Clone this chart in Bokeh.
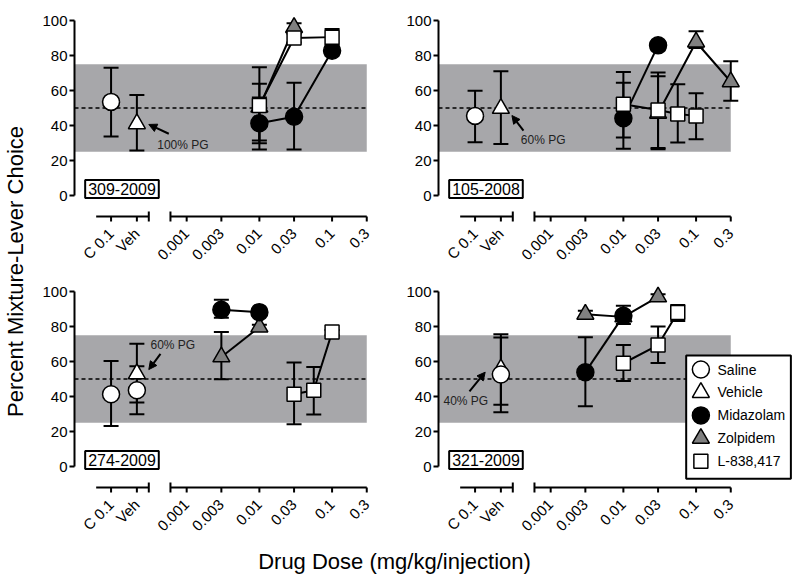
import math
import numpy as np
from bokeh.plotting import figure
from bokeh.layouts import column, row
from bokeh.models import (Range1d, LinearAxis, FixedTicker, Whisker, TeeHead, ColumnDataSource,
                          BoxAnnotation, Label, Arrow, NormalHead)
from bokeh.core.properties import value
from bokeh.embed import file_html
from bokeh.resources import INLINE

FONT = "Liberation Sans"

# ---------------- data ----------------
DOSE_TICKS = [0.001, 0.003, 0.01, 0.03, 0.1, 0.3]
DOSE_LABELS = ["0.001", "0.003", "0.01", "0.03", "0.1", "0.3"]
CTRL_LABELS = ["C 0.1", "Veh"]
SERIES = ["Saline", "Vehicle", "Midazolam", "Zolpidem", "L-838,417"]
SUBJECTS = ["309-2009", "105-2008", "274-2009", "321-2009"]
PG_NOTES = ["100% PG", "60% PG", "60% PG", "40% PG"]
CHANCE = 50
BAND_LO, BAND_HI = 25, 75
Y_TICKS = [0, 20, 40, 60, 80, 100]

# Panel A: 309-2009
A_SAL_AT = ["C 0.1"]; A_SAL = [53.5]; A_SAL_LO = [33.7]; A_SAL_HI = [73.0]
A_VEH_AT = ["Veh"]; A_VEH = [41.0]; A_VEH_LO = [25.7]; A_VEH_HI = [57.5]
A_MID_DOSE = [0.01, 0.03, 0.1]; A_MID = [41.3, 45.0, 82.7]; A_MID_LO = [26.3, 26.3, 80.0]; A_MID_HI = [56.0, 64.4, 85.0]
A_ZOL_DOSE = [0.01, 0.03]; A_ZOL = [50.5, 96.0]; A_ZOL_LO = [31.4, 93.0]; A_ZOL_HI = [63.8, 98.5]
A_L83_DOSE = [0.01, 0.03, 0.1]; A_L83 = [51.4, 90.0, 90.5]; A_L83_LO = [29.9, 87.5, 86.0]; A_L83_HI = [73.3, 92.5, 95.2]

# Panel B: 105-2008
B_SAL_AT = ["C 0.1"]; B_SAL = [45.5]; B_SAL_LO = [30.5]; B_SAL_HI = [59.8]
B_VEH_AT = ["Veh"]; B_VEH = [49.8]; B_VEH_LO = [29.4]; B_VEH_HI = [71.0]
B_MID_DOSE = [0.01, 0.03]; B_MID = [44.1, 85.8]; B_MID_LO = [26.7, 83.0]; B_MID_HI = [64.4, 88.0]
B_ZOL_DOSE = [0.03, 0.1, 0.3]; B_ZOL = [47.0, 87.7, 65.0]; B_ZOL_LO = [26.5, 84.3, 54.1]; B_ZOL_HI = [68.2, 93.8, 76.7]
B_L83_DOSE = [0.01, 0.03, 0.056, 0.1]; B_L83 = [52.1, 48.9, 46.6, 45.5]; B_L83_LO = [33.1, 27.1, 30.3, 32.2]; B_L83_HI = [70.6, 70.3, 63.6, 58.4]

# Panel C: 274-2009
C_SAL_AT = ["C 0.1", "Veh"]; C_SAL = [41.3, 43.6]; C_SAL_LO = [23.1, 29.8]; C_SAL_HI = [60.3, 57.3]
C_VEH_AT = ["Veh"]; C_VEH = [53.0]; C_VEH_LO = [36.6]; C_VEH_HI = [70.2]
C_MID_DOSE = [0.003, 0.01]; C_MID = [89.6, 88.2]; C_MID_LO = [85.0, 86.0]; C_MID_HI = [95.3, 90.0]
C_ZOL_DOSE = [0.003, 0.01]; C_ZOL = [62.6, 79.7]; C_ZOL_LO = [49.9, 78.0]; C_ZOL_HI = [76.8, 81.0]
C_L83_DOSE = [0.03, 0.056, 0.1]; C_L83 = [41.3, 43.6, 76.8]; C_L83_LO = [24.2, 29.7, 75.0]; C_L83_HI = [59.4, 56.9, 78.0]

# Panel D: 321-2009
D_SAL_AT = ["Veh"]; D_SAL = [52.6]; D_SAL_LO = [31.0]; D_SAL_HI = [73.7]
D_VEH_AT = ["Veh"]; D_VEH = [55.8]; D_VEH_LO = [35.3]; D_VEH_HI = [75.6]
D_MID_DOSE = [0.003, 0.01]; D_MID = [53.9, 86.1]; D_MID_LO = [34.4, 81.4]; D_MID_HI = [73.8, 91.8]
D_ZOL_DOSE = [0.003, 0.01, 0.03]; D_ZOL = [87.0, 85.5, 96.9]; D_ZOL_LO = [85.0, 84.0, 95.0]; D_ZOL_HI = [89.0, 87.0, 98.5]
D_L83_DOSE = [0.01, 0.03, 0.056]; D_L83 = [59.0, 69.4, 88.0]; D_L83_LO = [48.8, 59.2, 83.2]; D_L83_HI = [69.4, 80.0, 92.3]

# ---------------- geometry / style ----------------
X_PX = 72.7            # pixels per decade
X_START = -4.543       # x-range start (log10 units)
CTRL_POS = [-4.04, -3.685]        # positions of "C 0.1" and "Veh" on the broken axis
CTRL_SEG = (-4.245, -3.521)       # control part of the broken x axis
DOSE_SEG_START = -3.223           # start of dose part of x axis
Y_PX = 1.75
Y_TOP = 100 + 20 / Y_PX
AXIS_Y = -12.0
TICK_LEN = 5 / Y_PX
LABEL_DROP = 14.5 / Y_PX
ROW_H = 271
LEFT_W = 38
COL_W = [364, 398]
BORDER_L = 36

SHADE = "#a7a7aa"
ZOL_GRAY = "#808080"

STYLE = {
    "Saline": dict(marker="circle", fill="white", size=17),
    "Vehicle": dict(marker="triangle", fill="white", size=17),
    "Midazolam": dict(marker="circle", fill="black", size=17),
    "Zolpidem": dict(marker="triangle", fill=ZOL_GRAY, size=17),
    "L-838,417": dict(marker="square", fill="white", size=14),
}
DRAW_ORDER = ["Vehicle", "Saline", "Zolpidem", "Midazolam", "L-838,417"]

PANELS = [
    {"Saline": (A_SAL_AT, A_SAL, A_SAL_LO, A_SAL_HI), "Vehicle": (A_VEH_AT, A_VEH, A_VEH_LO, A_VEH_HI),
     "Midazolam": (A_MID_DOSE, A_MID, A_MID_LO, A_MID_HI), "Zolpidem": (A_ZOL_DOSE, A_ZOL, A_ZOL_LO, A_ZOL_HI),
     "L-838,417": (A_L83_DOSE, A_L83, A_L83_LO, A_L83_HI)},
    {"Saline": (B_SAL_AT, B_SAL, B_SAL_LO, B_SAL_HI), "Vehicle": (B_VEH_AT, B_VEH, B_VEH_LO, B_VEH_HI),
     "Midazolam": (B_MID_DOSE, B_MID, B_MID_LO, B_MID_HI), "Zolpidem": (B_ZOL_DOSE, B_ZOL, B_ZOL_LO, B_ZOL_HI),
     "L-838,417": (B_L83_DOSE, B_L83, B_L83_LO, B_L83_HI)},
    {"Saline": (C_SAL_AT, C_SAL, C_SAL_LO, C_SAL_HI), "Vehicle": (C_VEH_AT, C_VEH, C_VEH_LO, C_VEH_HI),
     "Midazolam": (C_MID_DOSE, C_MID, C_MID_LO, C_MID_HI), "Zolpidem": (C_ZOL_DOSE, C_ZOL, C_ZOL_LO, C_ZOL_HI),
     "L-838,417": (C_L83_DOSE, C_L83, C_L83_LO, C_L83_HI)},
    {"Saline": (D_SAL_AT, D_SAL, D_SAL_LO, D_SAL_HI), "Vehicle": (D_VEH_AT, D_VEH, D_VEH_LO, D_VEH_HI),
     "Midazolam": (D_MID_DOSE, D_MID, D_MID_LO, D_MID_HI), "Zolpidem": (D_ZOL_DOSE, D_ZOL, D_ZOL_LO, D_ZOL_HI),
     "L-838,417": (D_L83_DOSE, D_L83, D_L83_LO, D_L83_HI)},
]

# annotation placements (data coords of each panel)
PG_TEXT_XY = [(-3.405, 29.1), (-3.410, 31.8), (-3.498, 69.7), (-4.474, 37.7)]
PG_ARROW = [((-3.246, 35.3), (-3.521, 40.6)), ((-3.374, 37.1), (-3.533, 45.7)),
            ((-3.360, 64.4), (-3.521, 55.4)), ((-4.117, 42.9), (-3.901, 53.9))]
ID_XY = (-3.89, 3.7)
LEG_BOX = (-1.136, 0.304, -7.0, 63.4)
LEG_MARK_X, LEG_TEXT_X, LEG_Y0, LEG_DY = -0.934, -0.705, 55.4, 13.1

DOSE_POS = [math.log10(d) for d in DOSE_TICKS]
X_LABEL_POS = CTRL_POS + DOSE_POS
X_LABEL_TXT = CTRL_LABELS + DOSE_LABELS
END_TICKS = [CTRL_SEG[1], DOSE_SEG_START]


def xpos(series, at):
    if series in ("Saline", "Vehicle"):
        return [CTRL_POS[CTRL_LABELS.index(a)] for a in at]
    return [math.log10(d) for d in at]


def make_panel(i):
    col = i % 2
    W = COL_W[col]
    fw = W - BORDER_L
    p = figure(width=W, height=ROW_H, output_backend="svg", toolbar_location=None,
               x_range=Range1d(X_START, X_START + fw / X_PX),
               y_range=Range1d(Y_TOP - ROW_H / Y_PX, Y_TOP),
               x_axis_type=None, y_axis_type=None,
               min_border_left=BORDER_L, min_border_right=0,
               min_border_top=0, min_border_bottom=0)
    p.outline_line_color = None
    p.background_fill_color = "white"

    # y axis
    yax = LinearAxis(ticker=FixedTicker(ticks=Y_TICKS), bounds=(0, 100),
                     axis_line_width=2, axis_line_color="black",
                     major_tick_line_width=2, major_tick_out=5, major_tick_in=0,
                     minor_tick_line_color=None, major_label_standoff=2,
                     major_label_text_font=FONT, major_label_text_font_size="15px",
                     major_label_text_color="black")
    p.add_layout(yax, "left")

    # shaded band and error bars (underlay)
    p.add_layout(BoxAnnotation(left=X_START, right=DOSE_POS[-1],
                               bottom=BAND_LO, top=BAND_HI, fill_color=SHADE, fill_alpha=1.0,
                               line_color=None, level="underlay"))
    data = PANELS[i]
    sources = {}
    for s in DRAW_ORDER:
        at, m, lo, hi = data[s]
        src = ColumnDataSource(dict(x=xpos(s, at), y=m, lo=lo, hi=hi))
        sources[s] = src
        p.add_layout(Whisker(source=src, base="x", lower="lo", upper="hi", dimension="height",
                             line_width=2, line_color="black", level="underlay",
                             upper_head=TeeHead(size=15, line_width=2, line_color="black"),
                             lower_head=TeeHead(size=15, line_width=2, line_color="black")))

    # chance line
    p.segment(x0=[X_START], x1=[DOSE_POS[-1]], y0=[CHANCE], y1=[CHANCE],
              line_color="black", line_width=1.5, line_dash="4 3")

    # broken x axis: two line pieces, ticks, end ticks, rotated labels
    p.segment(x0=[CTRL_SEG[0], DOSE_SEG_START], x1=[CTRL_SEG[1], DOSE_POS[-1]],
              y0=[AXIS_Y, AXIS_Y], y1=[AXIS_Y, AXIS_Y], line_color="black", line_width=2)
    p.segment(x0=X_LABEL_POS, x1=X_LABEL_POS, y0=[AXIS_Y] * len(X_LABEL_POS),
              y1=[AXIS_Y - TICK_LEN] * len(X_LABEL_POS), line_color="black", line_width=2)
    p.segment(x0=END_TICKS, x1=END_TICKS, y0=[AXIS_Y + TICK_LEN] * 2,
              y1=[AXIS_Y - TICK_LEN] * 2, line_color="black", line_width=2)
    p.text(x=X_LABEL_POS, y=[AXIS_Y - LABEL_DROP] * len(X_LABEL_POS), text=X_LABEL_TXT,
           angle=math.pi / 4, text_align="right", text_baseline="middle",
           text_font=value(FONT), text_font_size="15px", text_color="black")

    for s in DRAW_ORDER:
        st = STYLE[s]
        src = sources[s]
        if s not in ("Saline", "Vehicle"):
            p.line("x", "y", source=src, line_color="black", line_width=2)
        p.scatter("x", "y", source=src, marker=st["marker"], size=st["size"],
                  fill_color=st["fill"], line_color="black", line_width=1.5)

    # subject id box
    p.add_layout(Label(x=ID_XY[0], y=ID_XY[1], text=SUBJECTS[i], text_font=FONT,
                       text_font_size="16px", text_align="center", text_baseline="middle",
                       text_color="black", background_fill_color="white",
                       border_line_color="black", border_line_width=2, padding=3))
    # PG note
    tx, ty = PG_TEXT_XY[i]
    p.add_layout(Label(x=tx, y=ty, text=PG_NOTES[i], text_font=FONT, text_font_size="12px",
                       text_align="left", text_baseline="middle", text_color="#222222"))
    (ax0, ay0), (ax1, ay1) = PG_ARROW[i]
    p.add_layout(Arrow(x_start=ax0, y_start=ay0, x_end=ax1, y_end=ay1, line_width=2,
                       line_color="black",
                       end=NormalHead(size=8, fill_color="black", line_color="black", line_width=1)))

    if i == 3:
        l, r, b, t = LEG_BOX
        p.quad(left=[l], right=[r], bottom=[b], top=[t], fill_color="white",
               line_color="black", line_width=2)
        ys = [LEG_Y0 - k * LEG_DY for k in range(len(SERIES))]
        for k, s in enumerate(SERIES):
            st = STYLE[s]
            p.scatter([LEG_MARK_X], [ys[k]], marker=st["marker"], size=st["size"],
                      fill_color=st["fill"], line_color="black", line_width=1.5)
        p.text(x=[LEG_TEXT_X] * len(SERIES), y=ys, text=SERIES, text_font=value(FONT),
               text_font_size="14px", text_baseline="middle", text_align="left",
               text_color="black")
    return p


panels = [make_panel(i) for i in range(4)]

GRID_H = 2 * ROW_H
ylab = figure(width=LEFT_W, height=GRID_H, x_range=Range1d(0, LEFT_W), y_range=Range1d(0, GRID_H),
              x_axis_type=None, y_axis_type=None, toolbar_location=None, output_backend="svg",
              min_border=0)
ylab.outline_line_color = None
ylab.text(x=[15], y=[GRID_H - 271], text=["Percent Mixture-Lever Choice"], angle=math.pi / 2,
          text_align="center", text_baseline="middle", text_font=value(FONT),
          text_font_size="22px", text_color="black")

TOTAL_W = LEFT_W + sum(COL_W)
XL_H = 37
xlab = figure(width=TOTAL_W, height=XL_H, x_range=Range1d(0, TOTAL_W), y_range=Range1d(0, XL_H),
              x_axis_type=None, y_axis_type=None, toolbar_location=None, output_backend="svg",
              min_border=0)
xlab.outline_line_color = None
xlab.text(x=[394], y=[XL_H - 18.5], text=["Drug Dose (mg/kg/injection)"], text_align="center",
          text_baseline="middle", text_font=value(FONT), text_font_size="22px",
          text_color="black")

layout = column(row(ylab, column(row(panels[0], panels[1]), row(panels[2], panels[3]))), xlab)

with open("out.html", "w") as f:
    f.write(file_html(layout, INLINE, title="plot"))
